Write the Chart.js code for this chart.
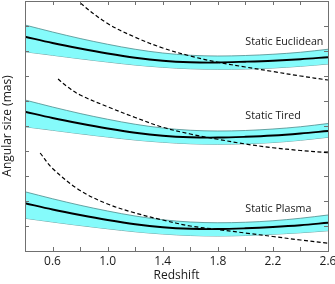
<!DOCTYPE html>
<html>
<head>
<meta charset="utf-8">
<script src="https://cdn.jsdelivr.net/npm/chart.js@4.4.1/dist/chart.umd.min.js"></script>
<style>
  html, body { margin: 0; padding: 0; background: #fff; }
  #wrap { width: 335px; height: 284px; }
</style>
</head>
<body>
<div id="wrap"><canvas id="c"></canvas></div>
<script>
'use strict';

/* ── data (y in arbitrary units, 10 steps tall) ── */
const redshift = [0.4, 0.6, 0.8, 1.0, 1.2, 1.4, 1.6, 1.8, 2.0, 2.2, 2.4, 2.6];
const xTickLabels = ['0.6', '1.0', '1.4', '1.8', '2.2', '2.6'];

const euclidMid   = [8.57, 8.32, 8.10, 7.90, 7.73, 7.61, 7.55, 7.54, 7.57, 7.61, 7.67, 7.75];
const euclidUpper = [9.04, 8.76, 8.50, 8.27, 8.07, 7.92, 7.83, 7.80, 7.82, 7.87, 7.95, 8.07];
const euclidLower = [7.97, 7.83, 7.69, 7.56, 7.44, 7.35, 7.29, 7.27, 7.28, 7.32, 7.39, 7.48];
const euclidDashZ = [0.6, 0.8, 1.0, 1.2, 1.4, 1.6, 1.8, 2.0, 2.2, 2.4, 2.6];
const euclidDash  = [11.0, 9.93, 9.10, 8.55, 8.12, 7.80, 7.55, 7.36, 7.18, 7.00, 6.84];

const tiredMid    = [5.57, 5.32, 5.10, 4.90, 4.73, 4.61, 4.55, 4.54, 4.57, 4.62, 4.70, 4.80];
const tiredUpper  = [6.04, 5.76, 5.50, 5.27, 5.07, 4.92, 4.83, 4.80, 4.82, 4.88, 4.97, 5.10];
const tiredLower  = [4.97, 4.83, 4.69, 4.56, 4.44, 4.35, 4.29, 4.27, 4.29, 4.34, 4.43, 4.55];
const tiredDashZ  = [0.64, 0.7, 0.8, 1.0, 1.2, 1.4, 1.6, 1.8, 2.0, 2.2, 2.4, 2.6];
const tiredDash   = [6.88, 6.60, 6.24, 5.77, 5.34, 4.95, 4.68, 4.47, 4.28, 4.13, 4.02, 3.93];

const plasmaMid   = [1.91, 1.66, 1.44, 1.24, 1.07, 0.95, 0.89, 0.88, 0.91, 0.96, 1.03, 1.13];
const plasmaUpper = [2.37, 2.09, 1.83, 1.60, 1.40, 1.25, 1.16, 1.13, 1.15, 1.21, 1.31, 1.44];
const plasmaLower = [1.31, 1.16, 1.02, 0.89, 0.77, 0.68, 0.62, 0.60, 0.62, 0.67, 0.73, 0.81];
const plasmaDashZ = [0.51, 0.6, 0.8, 1.0, 1.2, 1.4, 1.6, 1.8, 2.0, 2.2, 2.4, 2.6];
const plasmaDash  = [3.92, 3.30, 2.42, 1.88, 1.52, 1.24, 1.00, 0.86, 0.72, 0.58, 0.44, 0.31];

const panelLabels = [
  { text: 'Static Euclidean', x: 2.0, y: 8.36 },
  { text: 'Static Tired',     x: 2.0, y: 5.40 },
  { text: 'Static Plasma',    x: 2.0, y: 1.67 },
];

/* ── helpers ── */
const pts = (xs, ys) => xs.map((x, i) => ({ x, y: ys[i] }));

const BAND_FILL = '#85fbfb';
const BAND_EDGE = '#4d8c8c';
const AXIS_COL  = '#707070';
const TEXT_COL  = '#1a1a1a';
const FONT      = '"Open Sans", "DejaVu Sans", sans-serif';

function band(upper, lower) {
  return [
    { data: pts(redshift, upper), borderColor: BAND_EDGE, borderWidth: 0.8, backgroundColor: BAND_FILL, fill: '+1', order: 3 },
    { data: pts(redshift, lower), borderColor: BAND_EDGE, borderWidth: 0.8, fill: false, order: 3 },
  ];
}
const solid  = ys => ({ data: pts(redshift, ys), borderColor: '#000', borderWidth: 1.8, fill: false, order: 1 });
const dashed = (xs, ys) => ({ data: pts(xs, ys), borderColor: '#000', borderWidth: 1.2, borderDash: [4, 2.5], fill: false, order: 0 });

/* ── inside ticks, frame and panel labels ── */
const framePlugin = {
  id: 'frame',
  afterDraw(chart) {
    const { ctx, chartArea: a, scales: { x, y } } = chart;
    ctx.save();
    ctx.strokeStyle = AXIS_COL;
    ctx.lineWidth = 1;
    ctx.beginPath();
    x.ticks.forEach(t => {
      const px = Math.round(x.getPixelForValue(t.value)) + 0.5;
      ctx.moveTo(px, a.bottom); ctx.lineTo(px, a.bottom - 4);
      ctx.moveTo(px, a.top);    ctx.lineTo(px, a.top + 4);
    });
    y.ticks.forEach(t => {
      const py = Math.round(y.getPixelForValue(t.value)) + 0.5;
      ctx.moveTo(a.left, py);  ctx.lineTo(a.left + 4, py);
      ctx.moveTo(a.right, py); ctx.lineTo(a.right - 4, py);
    });
    ctx.stroke();
    ctx.strokeRect(Math.round(a.left) + 0.5, Math.round(a.top) + 0.5,
                   Math.round(a.right - a.left), Math.round(a.bottom - a.top));

    ctx.fillStyle = TEXT_COL;
    ctx.font = `10.7px ${FONT}`;
    ctx.textAlign = 'left';
    ctx.textBaseline = 'middle';
    panelLabels.forEach(l => ctx.fillText(l.text, x.getPixelForValue(l.x), y.getPixelForValue(l.y)));
    ctx.restore();
  }
};

new Chart(document.getElementById('c'), {
  type: 'line',
  data: {
    datasets: [
      ...band(euclidUpper, euclidLower), solid(euclidMid), dashed(euclidDashZ, euclidDash),
      ...band(tiredUpper, tiredLower),   solid(tiredMid),  dashed(tiredDashZ, tiredDash),
      ...band(plasmaUpper, plasmaLower), solid(plasmaMid), dashed(plasmaDashZ, plasmaDash),
    ]
  },
  options: {
    responsive: true,
    maintainAspectRatio: false,
    animation: false,
    layout: { padding: { top: 1, right: 7, left: 0, bottom: 0 } },
    elements: { point: { radius: 0 }, line: { tension: 0.35 } },
    plugins: { legend: { display: false }, tooltip: { enabled: false } },
    scales: {
      x: {
        type: 'linear', min: 0.4, max: 2.6,
        grid: { display: false, drawTicks: false, tickLength: 0 },
        border: { display: false },
        ticks: {
          stepSize: 0.2, autoSkip: false, maxRotation: 0, padding: 3,
          color: TEXT_COL, font: { family: FONT, size: 12 },
          callback: v => { const s = v.toFixed(1); return xTickLabels.includes(s) ? s : ''; }
        },
        title: { display: true, text: 'Redshift', color: TEXT_COL, font: { family: FONT, size: 12 }, padding: { top: 0, bottom: 1 } },
        afterFit: s => { s.height = 33; s.paddingRight = 0; s.paddingLeft = 0; }
      },
      y: {
        min: 0, max: 10,
        grid: { display: false, drawTicks: false, tickLength: 0 },
        border: { display: false },
        ticks: { stepSize: 1, display: false },
        title: { display: true, text: 'Angular size (mas)', color: TEXT_COL, font: { family: FONT, size: 12 }, padding: 0 },
        afterFit: s => { s.width = 25; }
      }
    }
  },
  plugins: [framePlugin]
});
</script>
</body>
</html>
